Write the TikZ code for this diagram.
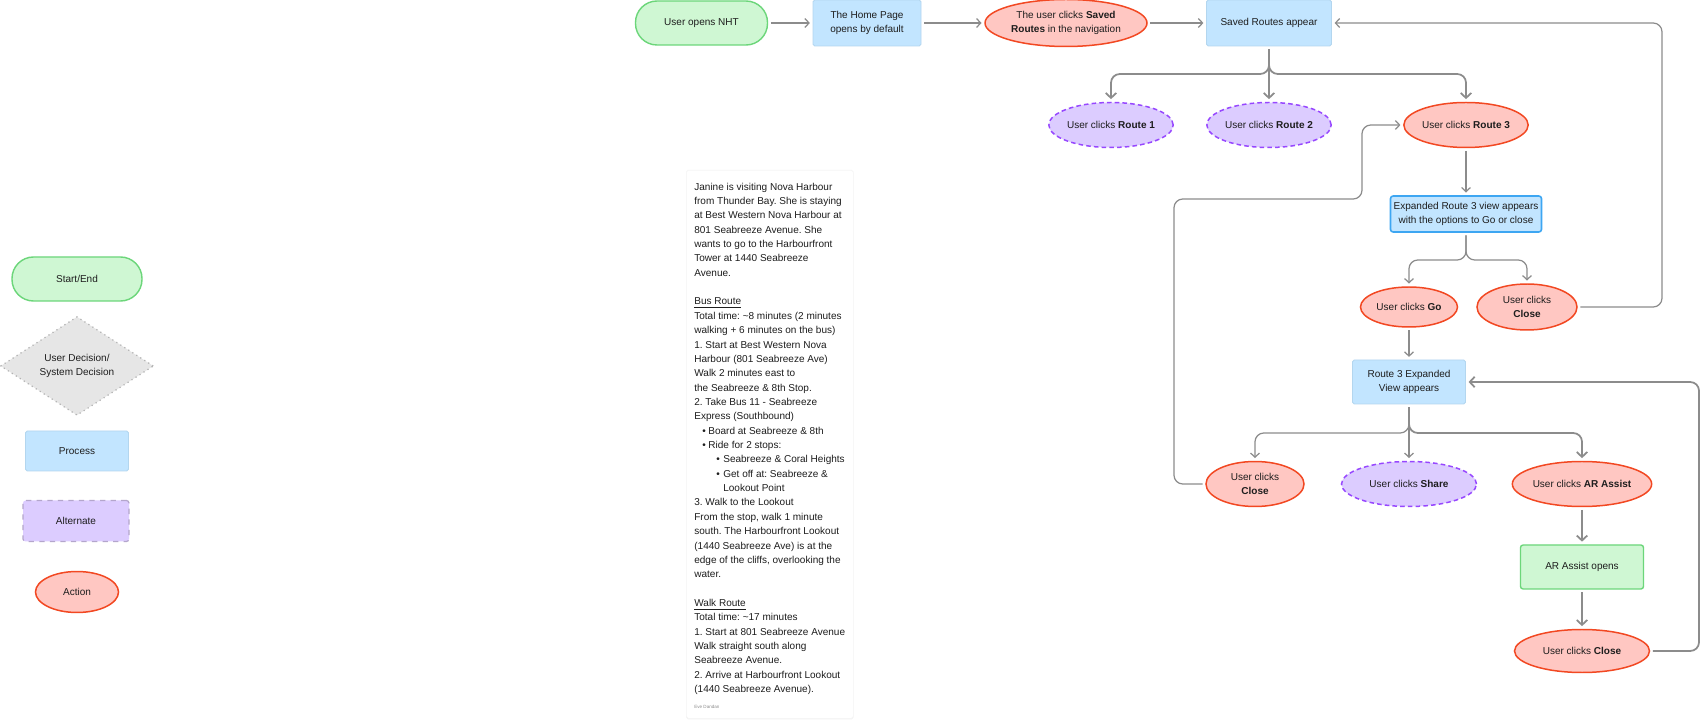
\documentclass[tikz,border=0pt]{standalone}
\usepackage{fontspec}
\setmainfont{Liberation Sans}
\usetikzlibrary{shapes.geometric,arrows.meta,shadows}
\frenchspacing

\definecolor{ink}{HTML}{1E1E1E}
\definecolor{wire}{HTML}{8C8C8C}
\definecolor{startfill}{HTML}{CFF7D3}
\definecolor{startline}{HTML}{6CD67A}
\definecolor{procfill}{HTML}{C2E5FF}
\definecolor{procline}{HTML}{B3D6EF}
\definecolor{procedge}{HTML}{3DA6F2}
\definecolor{actfill}{HTML}{FFC7C2}
\definecolor{actline}{HTML}{F24822}
\definecolor{altfill}{HTML}{DCCCFF}
\definecolor{altline}{HTML}{9747FF}
\definecolor{altgrey}{HTML}{B4A6CC}
\definecolor{decfill}{HTML}{E6E6E6}
\definecolor{decline}{HTML}{B3B3B3}

% bullets for the story card
\newcommand\bulletA{\hspace*{4.5pt}\makebox[3.5pt][l]{•}}
\newcommand\bulletB{\hspace*{12.5pt}\makebox[4pt][l]{•}}

\begin{document}
\begin{tikzpicture}[every node/.style={font=\fontsize{5.7}{8.4}\selectfont,text=ink,align=center,inner sep=0pt},
  startend/.style={draw=startline,fill=startfill,line width=0.8pt,rounded corners=0.43cm},
  process/.style={draw=procline,fill=procfill,line width=0.5pt,rounded corners=1pt},
  action/.style={ellipse,draw=actline,fill=actfill,line width=0.85pt},
  altaction/.style={ellipse,draw=altline,fill=altfill,line width=0.85pt,dash pattern=on 2.6pt off 1.8pt},
  flow/.style={draw=wire,line width=0.7pt,rounded corners=5pt,-{Straight Barb[length=2.4pt,width=5pt]},shorten >=1.5pt,shorten <=1.5pt},
  flowthick/.style={flow,line width=1pt,-{Straight Barb[length=2.8pt,width=6pt]}}]
  \fill[white] (0,0) rectangle (34.02,-14.5);
  \useasboundingbox (0,0) rectangle (34.02,-14.5);

  % legend
  \node[startend,minimum width=2.6cm,minimum height=0.88cm] (lgstart) at (1.54,-5.58) {Start/End};
  \node[diamond,draw=decline,fill=decfill,dotted,line width=0.7pt,minimum width=3.06cm,minimum height=1.86cm] (lgdecision) at (1.54,-7.32) {User Decision/\\System Decision};
  \node[process,minimum width=2.06cm,minimum height=0.8cm] (lgprocess) at (1.54,-9.02) {Process};
  \node[draw=altgrey,fill=altfill,dashed,line width=0.7pt,rounded corners=1.5pt,minimum width=2.12cm,minimum height=0.82cm] (lgalt) at (1.52,-10.42) {Alternate};
  \node[action,minimum width=1.66cm,minimum height=0.82cm] (lgaction) at (1.54,-11.84) {Action};

  % story card
  \node[draw=black!4,fill=white,line width=0.4pt,rounded corners=1pt,drop shadow={shadow xshift=0pt,shadow yshift=-0.6pt,opacity=0.1},minimum width=3.34cm,minimum height=10.96cm,anchor=north west] (card) at (13.72,-3.4) {};
  \node[anchor=north west,align=left,font=\fontsize{5.7}{8.17}\selectfont] (story) at ([xshift=0.16cm,yshift=-0.25cm]card.north west) {Janine is visiting Nova Harbour\\
from Thunder Bay. She is staying\\
at Best Western Nova Harbour at\\
801 Seabreeze Avenue. She\\
wants to go to the Harbourfront\\
Tower at 1440 Seabreeze\\
Avenue.\\[8.17pt]
\underline{Bus Route}\\
Total time: \textasciitilde 8 minutes (2 minutes\\
walking + 6 minutes on the bus)\\
1. Start at Best Western Nova\\
Harbour (801 Seabreeze Ave)\\
Walk 2 minutes east to\\
the Seabreeze \& 8th Stop.\\
2. Take Bus 11 - Seabreeze\\
Express (Southbound)\\
\bulletA Board at Seabreeze \& 8th\\
\bulletA Ride for 2 stops:\\
\bulletB Seabreeze \& Coral Heights\\
\bulletB Get off at: Seabreeze \&\\
\hspace*{16.5pt}Lookout Point\\
3. Walk to the Lookout\\
From the stop, walk 1 minute\\
south. The Harbourfront Lookout\\
(1440 Seabreeze Ave) is at the\\
edge of the cliffs, overlooking the\\
water.\\[8.17pt]
\underline{Walk Route}\\
Total time: \textasciitilde 17 minutes\\
1. Start at 801 Seabreeze Avenue\\
Walk straight south along\\
Seabreeze Avenue.\\
2. Arrive at Harbourfront Lookout\\
(1440 Seabreeze Avenue).};
  \node[anchor=west,font=\fontsize{2.6}{3}\selectfont,text=black!45] (credit) at (13.88,-14.14) {Eve Dandan};

  % flow nodes
  \node[startend,minimum width=2.64cm,minimum height=0.88cm] (nht) at (14.03,-0.46) {User opens NHT};
  \node[process,minimum width=2.16cm,minimum height=0.92cm] (home) at (17.34,-0.46) {The Home Page\\opens by default};
  \node[action,minimum width=3.24cm,minimum height=0.94cm] (savedclick) at (21.32,-0.46) {The user clicks \textbf{Saved}\\\textbf{Routes} in the navigation};
  \node[process,minimum width=2.5cm,minimum height=0.92cm] (savedappear) at (25.38,-0.46) {Saved Routes appear};
  \node[altaction,minimum width=2.48cm,minimum height=0.9cm] (route1) at (22.22,-2.5) {User clicks \textbf{Route 1}};
  \node[altaction,minimum width=2.48cm,minimum height=0.9cm] (route2) at (25.38,-2.5) {User clicks \textbf{Route 2}};
  \node[action,minimum width=2.48cm,minimum height=0.9cm] (route3) at (29.32,-2.5) {User clicks \textbf{Route 3}};
  \node[process,draw=procedge,line width=0.9pt,rounded corners=1.5pt,minimum width=3.02cm,minimum height=0.72cm] (expanded) at (29.32,-4.28) {Expanded Route 3 view appears\\with the options to Go or close};
  \node[action,minimum width=1.94cm,minimum height=0.8cm] (go) at (28.18,-6.14) {User clicks \textbf{Go}};
  \node[action,minimum width=2.0cm,minimum height=0.92cm] (close1) at (30.54,-6.14) {User clicks\\\textbf{Close}};
  \node[process,minimum width=2.26cm,minimum height=0.88cm] (r3view) at (28.18,-7.64) {Route 3 Expanded\\View appears};
  \node[action,minimum width=1.96cm,minimum height=0.9cm] (close2) at (25.1,-9.68) {User clicks\\\textbf{Close}};
  \node[altaction,minimum width=2.7cm,minimum height=0.9cm] (share) at (28.18,-9.68) {User clicks \textbf{Share}};
  \node[action,minimum width=2.68cm,minimum height=0.9cm] (arassist) at (31.64,-9.68) {User clicks \textbf{AR Assist}};
  \node[startend,rounded corners=1.5pt,minimum width=2.46cm,minimum height=0.88cm] (aropens) at (31.64,-11.34) {AR Assist opens};
  \node[action,minimum width=2.7cm,minimum height=0.86cm] (close3) at (31.64,-13.02) {User clicks \textbf{Close}};

  % fork and loop points
  \coordinate (fk1) at (25.38,-1.48);
  \coordinate (fk2) at (29.32,-5.2);
  \coordinate (fk3) at (28.18,-8.66);
  \coordinate (rp1) at (33.24,0);
  \coordinate (rp2) at (33.98,0);
  \coordinate (lp1) at (23.48,-3.98);
  \coordinate (lp2) at (27.24,-3.98);

  % connectors
  \draw[flow] (nht) -- (home);
  \draw[flow] (home) -- (savedclick);
  \draw[flow] (savedclick) -- (savedappear);
  \draw[flowthick] (savedappear.south) |- (route1.north |- fk1) -- (route1.north);
  \draw[flowthick] (savedappear.south) -- (route2.north);
  \draw[flowthick] (savedappear.south) |- (route3.north |- fk1) -- (route3.north);
  \draw[flow] (route3) -- (expanded);
  \draw[flow] (expanded.south) |- (go.north |- fk2) -- (go.north);
  \draw[flow] (expanded.south) |- (close1.north |- fk2) -- (close1.north);
  \draw[flow] (close1.east) -| (savedappear.east -| rp1) -- (savedappear.east);
  \draw[flow] (go) -- (r3view);
  \draw[flow] (r3view.south) |- (close2.north |- fk3) -- (close2.north);
  \draw[flow] (r3view.south) -- (share.north);
  \draw[flowthick] (r3view.south) |- (arassist.north |- fk3) -- (arassist.north);
  \draw[flow] (close2.west) -| (lp1) -- (lp2) |- (route3.west);
  \draw[flowthick] (arassist) -- (aropens);
  \draw[flowthick] (aropens) -- (close3);
  \draw[flowthick] (close3.east) -| (r3view.east -| rp2) -- (r3view.east);
\end{tikzpicture}
\end{document}
